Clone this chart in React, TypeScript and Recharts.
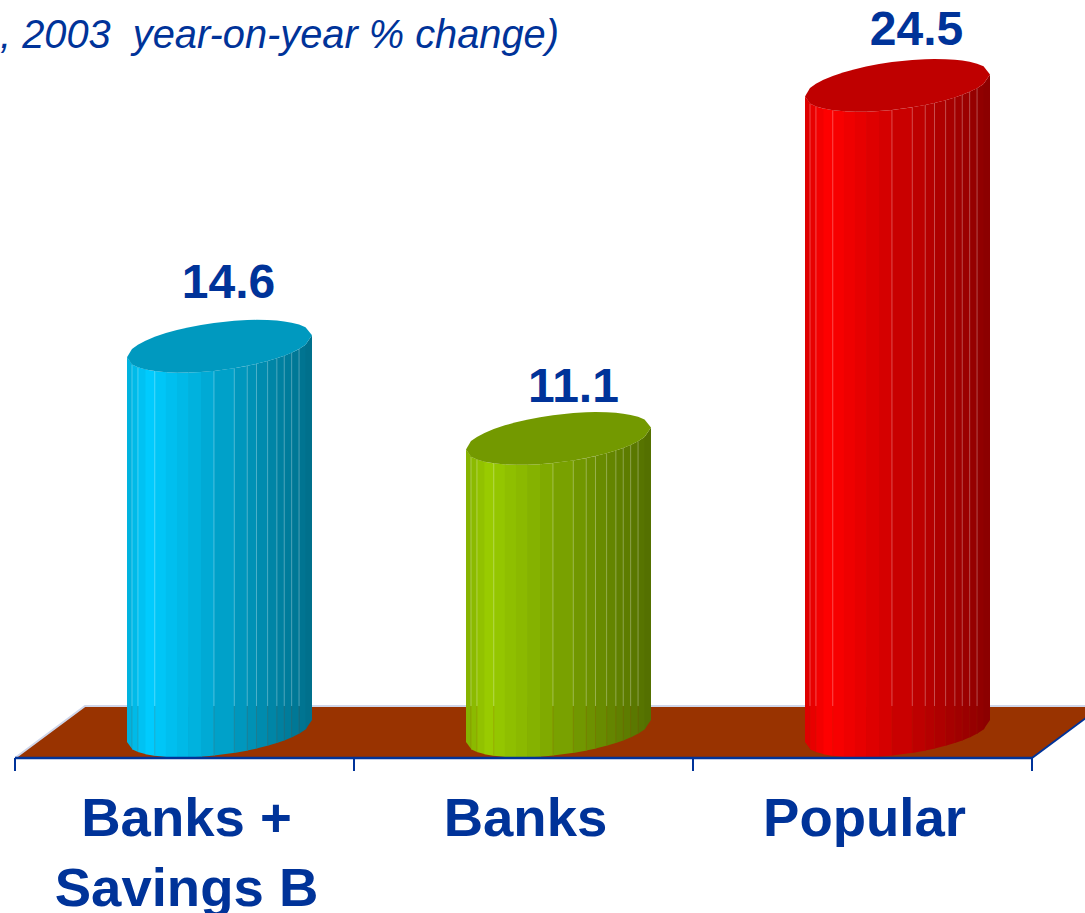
import React from 'react';
import { BarChart, Bar, XAxis, YAxis, LabelList, Customized } from 'recharts';

const categories = [['Banks +', 'Savings B'], ['Banks'], ['Popular']];
const growth = [14.6, 11.1, 24.5];
const baseColors = [[0, 204, 255], [153, 204, 0], [255, 0, 0]];

const BLUE = '#003399';
const FLOOR = '#993300';
const EDGE = '#cfd6ea';

const WIDTH = 1085;
const HEIGHT = 913;
const LEFT = 15;
const RIGHT = 1032;
const AXIS_Y = 758;
const FLOOR_BACK_Y = 706;
const DEPTH_X = 70;
const BAR_SHIFT = 35;
const CAP_SKEW = 11;
const CAP_RY = 24;
const LABEL_DX = [9, 15, 19];
const LABEL_DY = [48, 36, 40];

// where the facets of the cylinder fall, as a fraction of its width
const bands = [0, 0.027, 0.059, 0.1, 0.15, 0.21, 0.27, 0.33, 0.4, 0.47, 0.58, 0.65, 0.7, 0.76, 0.81, 0.85, 0.89, 0.93, 0.965, 1];
const seams = [0.027, 0.059, 0.15, 0.47, 0.58, 0.65, 0.7, 0.76, 0.81, 0.85, 0.89, 0.93];

const data = categories.map((c, i) => ({ name: c.join('|'), value: growth[i], index: i }));

const shade = (rgb: number[], f: number) =>
  `rgb(${rgb.map((v) => Math.round(v * f)).join(',')})`;

const bandLight = (p: number) => (p < 0.12 ? 0.86 + (p / 0.12) * 0.14 : 1 - ((p - 0.12) / 0.88) * 0.46);

const Cylinder = (props: any) => {
  const { x, y, width, height, index } = props;
  const left = x + BAR_SHIFT;
  const rx = width / 2;
  const cx = left + rx;
  const bottom = y + height;
  const rgb = baseColors[index];

  // point on the tilted rim, lower or upper arc
  const rim = (p: number, cy: number, sign: number) => {
    const c = 2 * p - 1;
    const s = Math.sqrt(Math.max(0, 1 - c * c));
    return [cx + rx * c, cy - CAP_SKEW * c + sign * CAP_RY * s];
  };
  const pts = (list: number[][]) => list.map((q) => q.join(',')).join(' ');

  const cap = pts([
    ...bands.map((p) => rim(p, y, 1)),
    ...[...bands].reverse().map((p) => rim(p, y, -1)),
  ]);

  return (
    <g>
      {bands.slice(0, -1).map((p, i) => {
        const n = bands[i + 1];
        const end = i === bands.length - 2 ? n : n + 0.004;
        return (
          <polygon
            key={i}
            points={pts([rim(p, y, 1), rim(end, y, 1), rim(end, bottom, 1), rim(p, bottom, 1)])}
            fill={shade(rgb, bandLight((p + n) / 2))}
          />
        );
      })}
      {seams.map((p) => {
        const top = rim(p, y, 1);
        const low = rim(p, bottom, 1);
        return (
          <g key={p}>
            <line x1={top[0]} x2={top[0]} y1={top[1]} y2={FLOOR_BACK_Y} stroke="#fff" strokeOpacity={0.3} strokeWidth={1} />
            <line x1={top[0]} x2={top[0]} y1={FLOOR_BACK_Y} y2={low[1]} stroke={FLOOR} strokeOpacity={0.18} strokeWidth={1} />
          </g>
        );
      })}
      <polygon points={cap} fill={shade(rgb, 0.75)} />
    </g>
  );
};

const FloorAndTitle = () => {
  const step = (RIGHT - LEFT) / categories.length;
  const ticks = [0, 1, 2, 3].map((i) => LEFT + i * step);
  return (
    <g>
      <polygon
        points={`${LEFT},${AXIS_Y} ${LEFT + DEPTH_X},${FLOOR_BACK_Y} ${RIGHT + DEPTH_X},${FLOOR_BACK_Y} ${RIGHT},${AXIS_Y}`}
        fill={FLOOR}
      />
      <polyline
        points={`${LEFT},${AXIS_Y} ${LEFT + DEPTH_X},${FLOOR_BACK_Y} ${RIGHT + DEPTH_X},${FLOOR_BACK_Y}`}
        fill="none"
        stroke={EDGE}
        strokeWidth={2}
      />
      <line x1={RIGHT} y1={AXIS_Y} x2={RIGHT + DEPTH_X} y2={FLOOR_BACK_Y} stroke={BLUE} strokeWidth={2} />
      {ticks.map((t) => (
        <line key={t} x1={t} x2={t} y1={AXIS_Y} y2={AXIS_Y + 13} stroke={BLUE} strokeWidth={2} />
      ))}
      <text
        x={559}
        y={48}
        textAnchor="end"
        fill={BLUE}
        fontSize={39.8}
        fontStyle="italic"
        fontFamily="Liberation Sans"
        style={{ whiteSpace: 'pre' }}
      >
        {', 2003  year-on-year % change)'}
      </text>
    </g>
  );
};

const CategoryTick = (props: any) => {
  const { x, payload } = props;
  const lines = String(payload.value).split('|');
  return (
    <text x={x + 2} y={836} textAnchor="middle" fill={BLUE} fontSize={54.5} fontWeight="bold" fontFamily="Liberation Sans">
      {lines.map((l, i) => (
        <tspan key={l} x={x + 2} dy={i === 0 ? 0 : 70}>
          {l}
        </tspan>
      ))}
    </text>
  );
};

const ValueLabel = (props: any) => {
  const { x, y, width, value, index } = props;
  return (
    <text
      x={x + width / 2 + BAR_SHIFT + LABEL_DX[index]}
      y={y - LABEL_DY[index]}
      textAnchor="middle"
      fill={BLUE}
      fontSize={48}
      fontWeight="bold"
      fontFamily="Liberation Sans"
    >
      {Number(value).toFixed(1)}
    </text>
  );
};

export default function App() {
  return (
    <div style={{ position: 'absolute', left: 0, top: 0, width: WIDTH, height: HEIGHT, overflow: 'hidden', background: '#fff' }}>
      <BarChart
        width={WIDTH}
        height={HEIGHT}
        data={data}
        margin={{ top: 0, right: WIDTH - RIGHT, bottom: 0, left: LEFT }}
        barSize={185}
      >
        <XAxis
          dataKey="name"
          height={HEIGHT - AXIS_Y}
          interval={0}
          tickLine={false}
          axisLine={{ stroke: BLUE, strokeWidth: 2.5 }}
          tick={<CategoryTick />}
        />
        <YAxis hide type="number" domain={[-1.025, 27.74]} allowDataOverflow />
        <Customized component={FloorAndTitle} />
        <Bar dataKey="value" isAnimationActive={false} shape={<Cylinder />}>
          <LabelList dataKey="value" content={<ValueLabel />} />
        </Bar>
      </BarChart>
    </div>
  );
}
